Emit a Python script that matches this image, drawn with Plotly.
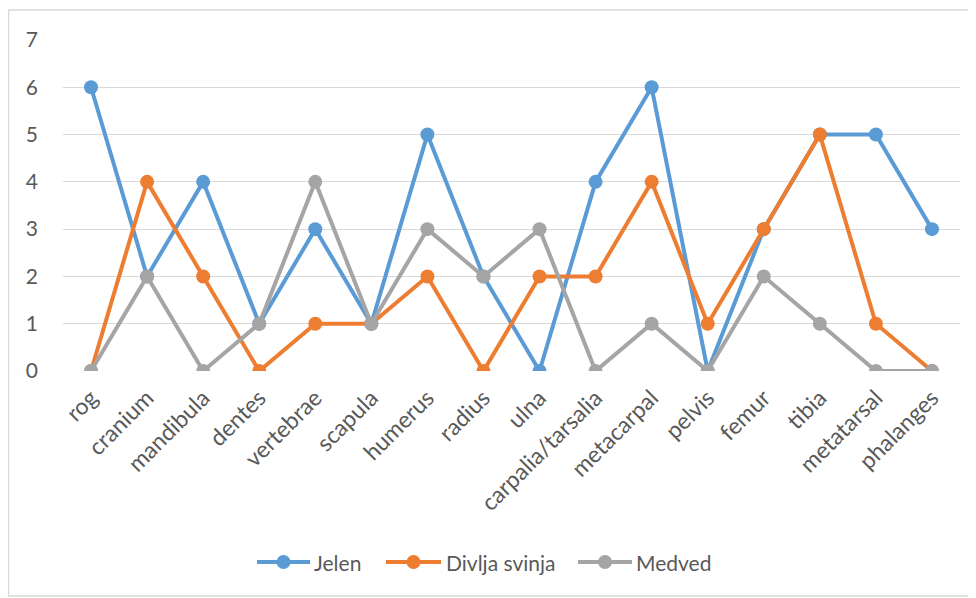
import plotly.graph_objects as go

categories = ["rog", "cranium", "mandibula", "dentes", "vertebrae", "scapula", "humerus",
              "radius", "ulna", "carpalia/tarsalia", "metacarpal", "pelvis", "femur",
              "tibia", "metatarsal", "phalanges"]
jelen = [6, 2, 4, 1, 3, 1, 5, 2, 0, 4, 6, 0, 3, 5, 5, 3]
divlja_svinja = [0, 4, 2, 0, 1, 1, 2, 0, 2, 2, 4, 1, 3, 5, 1, 0]
medved = [0, 2, 0, 1, 4, 1, 3, 2, 3, 0, 1, 0, 2, 1, 0, 0]

series_names = ["Jelen", "Divlja svinja", "Medved"]
series_colors = ["#5B9BD5", "#ED7D31", "#A5A5A5"]
series_values = [jelen, divlja_svinja, medved]

fig = go.Figure()
for name, vals, color in zip(series_names, series_values, series_colors):
    fig.add_trace(go.Scatter(
        x=categories, y=vals, name=name, mode="lines+markers",
        line=dict(color=color, width=4),
        marker=dict(color=color, size=14),
        showlegend=False,
    ))

# page has an 8px body margin; figure sized to fit the window
W, H = 968, 590
L, R, T, B = 55, 16, 32, 227
pw, ph = W - L - R, H - T - B

def px(x):
    return (x - L) / pw

def py(y):
    return (H - B - y) / ph

fig.add_shape(type="rect", xref="paper", yref="paper",
              x0=px(0.5), x1=px(966), y0=py(2), y1=py(588),
              line=dict(color="#D9D9D9", width=1.5), fillcolor="rgba(0,0,0,0)", layer="below")

# custom legend (Excel style: long line with marker in the middle)
legend_y = 554
legend_items = [(249, 302, 304), (378, 433, 436), (570, 624, 626)]
for (x0, x1, tx), name, color in zip(legend_items, series_names, series_colors):
    fig.add_shape(type="line", xref="paper", yref="paper",
                  x0=px(x0), x1=px(x1), y0=py(legend_y), y1=py(legend_y),
                  line=dict(color=color, width=4))
    cx = (x0 + x1) / 2
    fig.add_shape(type="circle", xref="paper", yref="paper",
                  x0=px(cx - 7), x1=px(cx + 7), y0=py(legend_y - 7), y1=py(legend_y + 7),
                  line=dict(color=color, width=0), fillcolor=color)
    fig.add_annotation(xref="paper", yref="paper", x=px(tx), y=py(legend_y),
                       text=name, showarrow=False, xanchor="left", yanchor="middle",
                       font=dict(size=21, color="#595959"))

fig.update_layout(
    width=W, height=H,
    margin=dict(l=L, r=R, t=T, b=B),
    paper_bgcolor="white", plot_bgcolor="white",
    font=dict(family="Lato, Open Sans, sans-serif", color="#595959", size=20),
    showlegend=False,
    xaxis=dict(type="category", showgrid=False, zeroline=False, showline=False,
               tickangle=-45, tickfont=dict(size=23, color="#595959"),
               range=[-0.5, 15.5], ticks="", ticklabelstandoff=8),
    yaxis=dict(range=[0, 7], dtick=1, showgrid=True, gridcolor="#D9D9D9", gridwidth=1,
               zeroline=False, showline=False, tickfont=dict(size=21, color="#595959"),
               ticklabelstandoff=24),
)

fig.write_html("out.html")
